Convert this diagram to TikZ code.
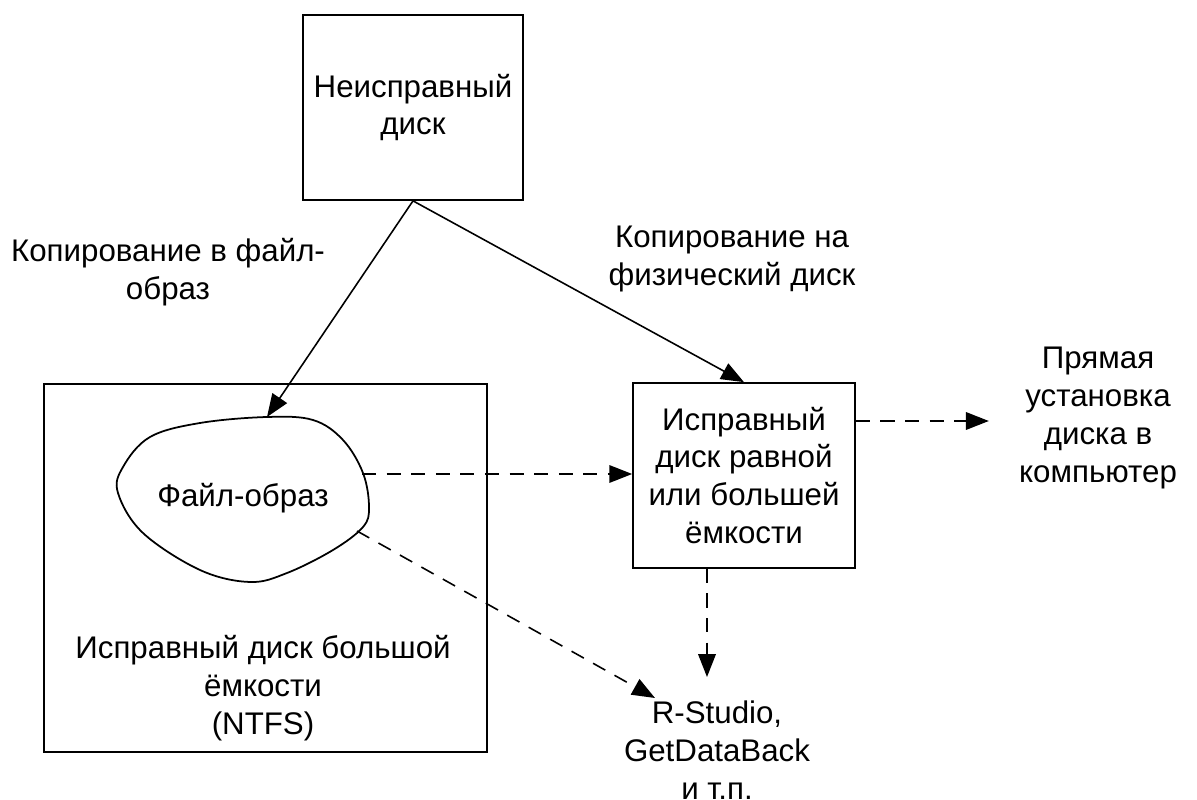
\documentclass[tikz,border=0pt]{standalone}
\usepackage{fontspec}
\setmainfont{Liberation Sans}
\usetikzlibrary{arrows.meta}
\tikzset{
	box/.style={draw, line width=1pt, align=center, inner sep=0pt},
	txt/.style={align=center, inner sep=0pt},
	solidarrow/.style={line width=0.9pt, -{Triangle[length=13pt,width=10pt]}},
	dasharrow/.style={solidarrow, dash pattern=on 8pt off 6pt},
}
\begin{document}
\begin{tikzpicture}[x=0.02cm, y=-0.02cm, font=\fontsize{17.8}{21.6}\selectfont]
	\useasboundingbox (0,0) rectangle (1197,800);
	% disks
	\node[box, minimum width=4.4cm, minimum height=3.7cm] (Bad Disk) at (413,107.5) {Неисправный\\диск};
	\node[box, minimum width=8.86cm, minimum height=7.36cm] (Big Disk) at (265.5,568) {};
	\node[txt] (Big Disk Text) at (263,688) {Исправный диск большой\\ёмкости\\(NTFS)};
	\node[box, minimum width=4.44cm, minimum height=3.7cm] (Good Disk) at (744,475.5) {Исправный\\диск равной\\или большей\\ёмкости};
	% image file
	\draw[line width=1pt] plot[smooth cycle, tension=0.6] coordinates {(267,417) (313,420) (343,440) (363,473) (369,507) (363,527) (333,550) (287,573) (250,582) (200,570) (143,533) (118,493) (123,467) (150,437) (200,423)};
	\node[txt] (Image) at (243,498) {Файл-образ};
	\coordinate (Image N) at (267,417);
	\coordinate (Image E) at (362,474);
	\coordinate (Image SE) at (357,531);
	% targets and labels
	\node[txt] (Direct) at (1098,418) {Прямая\\установка\\диска в\\компьютер};
	\node[txt] (Tools) at (717,750) {R-Studio,\\GetDataBack\\и т.п.};
	\coordinate (Tools N) at (707,677);
	\coordinate (Tools NW) at (655,698);
	\node[txt] (Copy Image) at (168,272) {Копирование в файл-\\образ};
	\node[txt] (Copy Disk) at (732,259) {Копирование на\\физический диск};
	% connectors
	\draw[solidarrow] (Bad Disk.south) -- (Image N);
	\draw[solidarrow] (Bad Disk.south) -- (Good Disk.north);
	\draw[dasharrow] (Image E) -- (Image E -| Good Disk.west);
	\draw[dasharrow] (Image SE) -- (Tools NW);
	\draw[dasharrow] (Good Disk.south -| Tools N) -- (Tools N);
	\draw[dasharrow] (Good Disk.east |- 0,421) -- ([xshift=-0.6cm]Direct.west |- 0,421);
\end{tikzpicture}
\end{document}
